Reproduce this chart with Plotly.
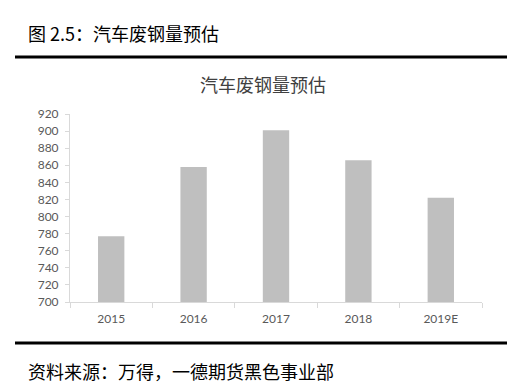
import plotly.graph_objects as go

categories = ["2015", "2016", "2017", "2018", "2019E"]
values = [777, 858, 901, 866, 822]
y_ticks = [700, 720, 740, 760, 780, 800, 820, 840, 860, 880, 900, 920]

fig = go.Figure()
fig.add_trace(go.Bar(x=categories, y=values, marker=dict(color="#bfbfbf", line=dict(width=0)), width=0.32))

W, H = 526, 392
L, R, T, B = 70, 482, 114, 302

def px(X):
    return (X - L) / (R - L)

def py(Y):
    return (B - Y) / (B - T)

tickfont = dict(family="Lato, Liberation Sans, sans-serif", size=12, color="#595959")

fig.update_layout(
    width=W, height=H,
    margin=dict(l=L, r=W - R, t=T, b=H - B),
    paper_bgcolor="white", plot_bgcolor="white",
    showlegend=False,
    xaxis=dict(
        type="category", showline=True, linecolor="#d9d9d9", linewidth=1,
        ticks="outside", tickson="boundaries", ticklen=5, tickcolor="#d9d9d9",
        ticklabelstandoff=6,
        tickfont=tickfont, showgrid=False, zeroline=False,
    ),
    yaxis=dict(
        range=[700, 920], tickvals=y_ticks, showline=True, linecolor="#d9d9d9", linewidth=1,
        ticks="outside", ticklen=4, tickcolor="#d9d9d9",
        ticklabelstandoff=4,
        tickfont=tickfont, showgrid=False, zeroline=False,
    ),
    shapes=[
        dict(type="line", xref="paper", yref="paper", x0=px(15), x1=px(507), y0=py(57), y1=py(57),
             line=dict(color="black", width=3)),
        dict(type="line", xref="paper", yref="paper", x0=px(15), x1=px(507), y0=py(343), y1=py(343),
             line=dict(color="black", width=3)),
    ],
    annotations=[
        dict(text="图 2.5：汽车废钢量预估", xref="paper", yref="paper", x=px(26), y=py(33),
             xanchor="left", yanchor="middle", showarrow=False,
             font=dict(family="Noto Sans CJK SC", size=18, color="black")),
        dict(text="汽车废钢量预估", xref="paper", yref="paper", x=px(263), y=py(84),
             xanchor="center", yanchor="middle", showarrow=False,
             font=dict(family="Noto Sans CJK SC", size=18, color="#404040")),
        dict(text="资料来源：万得，一德期货黑色事业部", xref="paper", yref="paper", x=px(26), y=py(371),
             xanchor="left", yanchor="middle", showarrow=False,
             font=dict(family="Noto Sans CJK SC", size=18, color="black")),
    ],
)

fig.write_html("out.html", config={"displayModeBar": False},
               post_script="document.body.style.margin='0';document.body.style.padding='0';")
